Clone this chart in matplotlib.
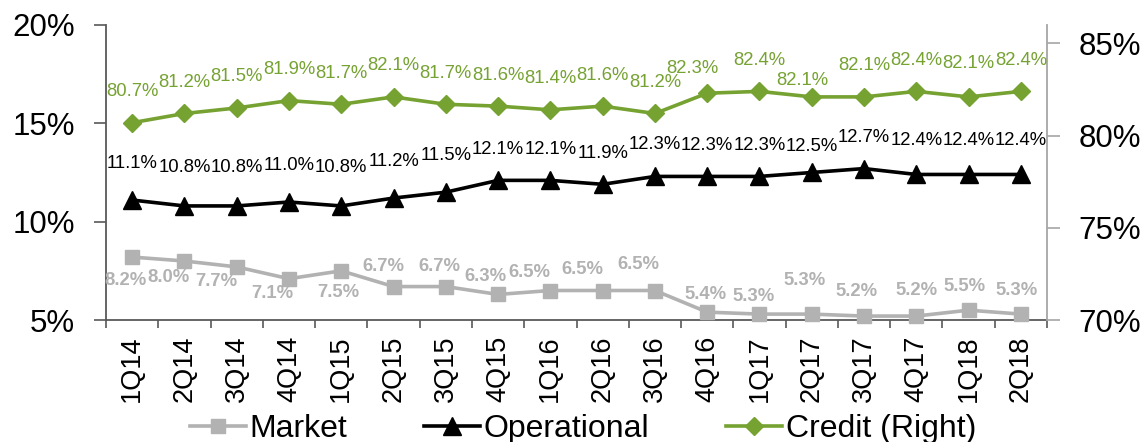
import matplotlib
matplotlib.use("Agg")
import matplotlib.pyplot as plt
from matplotlib.ticker import FixedLocator, FuncFormatter

plt.rcParams['font.family'] = ['Liberation Sans', 'DejaVu Sans']

quarters = ['1Q14', '2Q14', '3Q14', '4Q14', '1Q15', '2Q15', '3Q15', '4Q15', '1Q16',
            '2Q16', '3Q16', '4Q16', '1Q17', '2Q17', '3Q17', '4Q17', '1Q18', '2Q18']
market = [8.2, 8.0, 7.7, 7.1, 7.5, 6.7, 6.7, 6.3, 6.5, 6.5, 6.5, 5.4, 5.3, 5.3, 5.2, 5.2, 5.5, 5.3]
operational = [11.1, 10.8, 10.8, 11.0, 10.8, 11.2, 11.5, 12.1, 12.1, 11.9, 12.3, 12.3, 12.3, 12.5,
               12.7, 12.4, 12.4, 12.4]
credit = [80.7, 81.2, 81.5, 81.9, 81.7, 82.1, 81.7, 81.6, 81.4, 81.6, 81.2, 82.3, 82.4, 82.1,
          82.1, 82.4, 82.1, 82.4]

GREEN = '#76A232'
GRAY = '#B2B2B2'
BLACK = '#000000'

# label placement (pixels, relative to each point: dx right, dy up)
credit_dx = [0] * 11 + [-15, 0, -9, 0, 0, 0, 0]
credit_dy = [31] * 11 + [25, 31, 16, 31, 31, 33, 31]
oper_dy = [37, 38, 38, 37, 38, 37, 37, 31, 31, 31, 32, 31, 31, 26, 31, 34, 34, 34]
market_dx = [-7, -16, -20, -17, -3, -10, -6, -13, -21, -20, -17, -2, -6, -7, -7, 0, -4, -4]
market_dy = [-23, -17, -15, -15, -22, 20, 20, 18, 18, 21, 26, 18, 18, 34, 25, 26, 24, 24]

PX = 0.72  # points per pixel at 100 dpi

fig = plt.figure(figsize=(11.42, 4.42), dpi=100)
ax = fig.add_axes([106 / 1142, 122 / 442, (1047 - 106) / 1142, 295 / 442])
ax2 = ax.twinx()

x = list(range(len(quarters)))

l_mkt, = ax.plot(x, market, color=GRAY, lw=2.6, marker='s', ms=10.5, label='Market',
                 zorder=3, clip_on=False)
l_op, = ax.plot(x, operational, color=BLACK, lw=2.6, marker='^', ms=13, label='Operational',
                zorder=3, clip_on=False)
l_cr, = ax2.plot(x, credit, color=GREEN, lw=2.6, marker='D', ms=9, label='Credit (Right)',
                 zorder=3, clip_on=False)

for i, v in enumerate(market):
    ax.annotate(f'{v:.1f}%', (i, v), xytext=(market_dx[i] * PX, market_dy[i] * PX),
                textcoords='offset points', ha='center', va='center', fontsize=13.3,
                fontweight='bold', color=GRAY, zorder=4)
for i, v in enumerate(operational):
    ax.annotate(f'{v:.1f}%', (i, v), xytext=(0, oper_dy[i] * PX),
                textcoords='offset points', ha='center', va='center', fontsize=13.3,
                color=BLACK, zorder=4)
for i, v in enumerate(credit):
    ax2.annotate(f'{v:.1f}%', (i, v), xytext=(credit_dx[i] * PX, credit_dy[i] * PX),
                 textcoords='offset points', ha='center', va='center', fontsize=13.3,
                 color=GREEN, zorder=4)

ax.set_xlim(-0.5, len(quarters) - 0.5)
ax.set_ylim(5, 20)
ax2.set_ylim(70, 86)

pct = FuncFormatter(lambda v, _: f'{v:.0f}%')
ax.yaxis.set_major_locator(FixedLocator([5, 10, 15, 20]))
ax.yaxis.set_major_formatter(pct)
ax2.yaxis.set_major_locator(FixedLocator([70, 75, 80, 85]))
ax2.yaxis.set_major_formatter(pct)

ax.set_xticks(x)
ax.set_xticklabels(quarters, rotation=90, fontsize=19.5)
ax.set_xticks([i - 0.5 for i in range(len(quarters) + 1)], minor=True)
ax.tick_params(axis='x', which='major', length=0, pad=11)
ax.tick_params(axis='x', which='minor', length=6, width=1.2, color='#595959', direction='out')
ax.tick_params(axis='y', labelsize=22.5, length=9, width=1.2, color='#595959', pad=13.5)
ax2.tick_params(axis='y', labelsize=22.5, length=9, width=1.2, color='#A6A6A6', pad=13.5)

for a in (ax, ax2):
    a.spines['top'].set_visible(False)
ax.spines['right'].set_visible(False)
ax2.spines['left'].set_visible(False)
ax2.spines['bottom'].set_visible(False)
ax.spines['left'].set_color('#595959')
ax.spines['left'].set_linewidth(1.3)
ax.spines['bottom'].set_color('#595959')
ax.spines['bottom'].set_linewidth(1.3)
ax2.spines['right'].set_color('#A6A6A6')
ax2.spines['right'].set_linewidth(1.3)

fig.legend(handles=[l_mkt, l_op, l_cr], loc='center', bbox_to_anchor=(583 / 1142, 13 / 442),
           ncol=3, frameon=False, fontsize=23, handlelength=1.75, handletextpad=0.12,
           columnspacing=2.4, borderaxespad=0)

fig.savefig('out.png', dpi=100)
